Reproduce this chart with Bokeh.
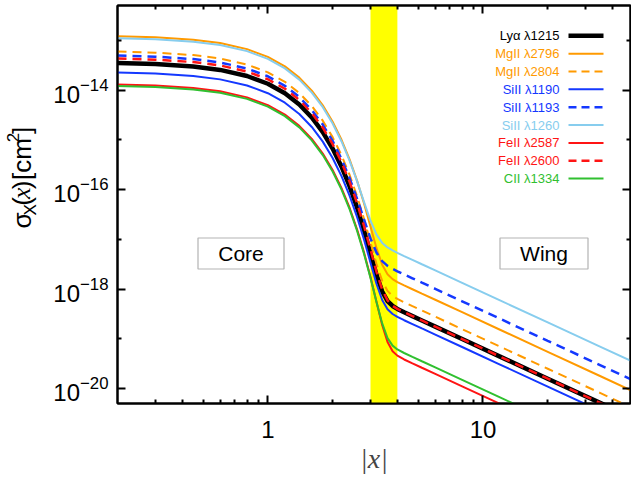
import numpy as np
from bokeh.plotting import figure
from bokeh.layouts import row
from bokeh.models import (Range1d, FixedTicker, LogAxis, LogTickFormatter,
                          PrintfTickFormatter, BoxAnnotation, Label, Arrow)
from bokeh.core.properties import value
from bokeh.embed import file_html
from bokeh.resources import INLINE

# |x| sample points (frequency offset in Doppler units)
x_abs = [0.2, 0.3, 0.45, 0.6, 0.8, 1.0, 1.2, 1.4, 1.6, 1.8, 2.0, 2.2, 2.4, 2.6, 2.8, 3.0,
         3.2, 3.4, 3.6, 3.8, 4.0, 4.3, 4.7, 5.2, 6.0, 8.0, 12.0, 20.0, 35.0, 50.0]

# log10 of the absorption cross-section sigma_X(x) [cm^2]
log_sig_lya1215 = [-13.457, -13.479, -13.528, -13.596, -13.718, -13.874, -14.065, -14.291, -14.552, -14.847,
                   -15.177, -15.540, -15.938, -16.366, -16.821, -17.286, -17.719, -18.050, -18.243, -18.341,
                   -18.400, -18.467, -18.544, -18.632, -18.756, -19.006, -19.358, -19.802, -20.288, -20.598]
log_sig_mg2796 = [-12.917, -12.939, -12.988, -13.056, -13.178, -13.334, -13.525, -13.751, -14.012, -14.307,
                  -14.637, -15.000, -15.398, -15.826, -16.281, -16.746, -17.179, -17.510, -17.703, -17.801,
                  -17.860, -17.927, -18.004, -18.092, -18.216, -18.466, -18.818, -19.262, -19.748, -20.058]
log_sig_mg2804 = [-13.227, -13.249, -13.298, -13.366, -13.488, -13.644, -13.835, -14.061, -14.322, -14.617,
                  -14.947, -15.310, -15.708, -16.137, -16.593, -17.060, -17.497, -17.837, -18.038, -18.140,
                  -18.199, -18.266, -18.344, -18.432, -18.556, -18.806, -19.158, -19.602, -20.088, -20.398]
log_sig_si1190 = [-13.647, -13.669, -13.718, -13.786, -13.908, -14.064, -14.255, -14.481, -14.742, -15.037,
                  -15.367, -15.730, -16.128, -16.556, -17.009, -17.472, -17.899, -18.221, -18.407, -18.502,
                  -18.560, -18.627, -18.704, -18.792, -18.916, -19.166, -19.518, -19.962, -20.448, -20.758]
log_sig_si1193 = [-13.307, -13.329, -13.378, -13.446, -13.568, -13.724, -13.915, -14.141, -14.402, -14.695,
                  -15.023, -15.384, -15.775, -16.189, -16.605, -16.985, -17.270, -17.440, -17.535, -17.595,
                  -17.643, -17.707, -17.784, -17.872, -17.996, -18.246, -18.598, -19.042, -19.528, -19.838]
log_sig_si1260 = [-12.957, -12.979, -13.028, -13.096, -13.218, -13.374, -13.565, -13.791, -14.052, -14.345,
                  -14.673, -15.034, -15.424, -15.837, -16.252, -16.627, -16.906, -17.073, -17.165, -17.225,
                  -17.273, -17.337, -17.414, -17.502, -17.626, -17.876, -18.228, -18.672, -19.158, -19.468]
log_sig_fe2587 = [-13.887, -13.909, -13.958, -14.026, -14.148, -14.304, -14.495, -14.721, -14.982, -15.277,
                  -15.607, -15.972, -16.371, -16.803, -17.268, -17.759, -18.259, -18.722, -19.064, -19.250,
                  -19.339, -19.416, -19.494, -19.582, -19.706, -19.956, -20.308, -20.752, -21.238, -21.548]
log_sig_fe2600 = [-13.367, -13.389, -13.438, -13.506, -13.628, -13.784, -13.975, -14.201, -14.462, -14.757,
                  -15.087, -15.450, -15.849, -16.278, -16.735, -17.207, -17.655, -18.012, -18.228, -18.337,
                  -18.399, -18.467, -18.544, -18.632, -18.756, -19.006, -19.358, -19.802, -20.288, -20.598]
log_sig_c1334 = [-13.917, -13.939, -13.988, -14.056, -14.178, -14.334, -14.525, -14.751, -15.012, -15.307,
                 -15.637, -16.001, -16.400, -16.832, -17.294, -17.780, -18.265, -18.692, -18.986, -19.138,
                 -19.214, -19.286, -19.364, -19.452, -19.576, -19.826, -20.178, -20.622, -21.108, -21.418]

transitions = ["Lyα λ1215", "MgII λ2796", "MgII λ2804", "SiII λ1190", "SiII λ1193",
               "SiII λ1260", "FeII λ2587", "FeII λ2600", "CII λ1334"]
series = [log_sig_lya1215, log_sig_mg2796, log_sig_mg2804, log_sig_si1190, log_sig_si1193,
          log_sig_si1260, log_sig_fe2587, log_sig_fe2600, log_sig_c1334]

# transition zone between Doppler core and damping wing
band_x = [3.0, 4.0]
region_names = ["Core", "Wing"]

x_major = [1, 10]
x_minor = [0.3, 0.4, 0.5, 0.6, 0.7, 0.8, 0.9, 2, 3, 4, 5, 6, 7, 8, 9, 20, 30, 40]
y_major = [1e-20, 1e-18, 1e-16, 1e-14]
y_minor = [1e-19, 1e-17, 1e-15, 1e-13]

# line styles
ORANGE, BLUE, SKY, RED, GREEN = "#ff9a00", "#1438ff", "#87cdee", "#ff1414", "#30c030"
styles = [
    ("black", "solid", 4.5),
    (ORANGE, "solid", 2.0),
    (ORANGE, "9 6", 2.0),
    (BLUE, "solid", 2.0),
    (BLUE, "9 6", 2.5),
    (SKY, "solid", 2.0),
    (RED, "solid", 2.0),
    (RED, "9 6", 2.5),
    (GREEN, "solid", 2.0),
]

FONT = "Liberation Sans"
SERIF = "Liberation Serif"
W, H = 631, 481
STRIP = 44                     # width of the strip holding the vertical title
FRAME_L, FRAME_B = 117, 403    # frame left / bottom on the full canvas

# ---- narrow strip on the left carrying the rotated y title ----
t = figure(width=STRIP, height=H, x_range=Range1d(0, STRIP), y_range=Range1d(0, H),
           x_axis_location=None, y_axis_location=None, min_border=0,
           output_backend="svg", toolbar_location=None)
t.grid.visible = False
t.outline_line_color = None
t.background_fill_color = "white"
t.border_fill_color = "white"


def vpiece(text, cx, cy, size, font=FONT, style="normal"):
    # each piece is centred on (cx, cy) and reads bottom-to-top
    t.text(x=[cx], y=[H - cy], text=[text], angle=np.pi / 2,
           text_font=value(font), text_font_size=f"{size}px", text_font_style=style,
           text_align="center", text_baseline="middle", text_color="black")


# sigma_X(x) [cm^2]
vpiece("σ", 21, 259.8, 26)
vpiece("X", 30, 246.9, 17)
vpiece("(", 21, 236.9, 26)
vpiece("x", 21, 226.8, 26, font=SERIF, style="italic")
vpiece(")", 21, 216.7, 26)
vpiece("[cm", 21, 185.5, 26)
vpiece("2", 12, 159.5, 17)
vpiece("]", 21, 151.0, 26)

# ---- main chart ----
p = figure(width=W - STRIP, height=H, x_axis_type="log", y_axis_type="log",
           x_range=Range1d(0.2, 48.5), y_range=Range1d(5e-21, 5e-13),
           output_backend="svg", toolbar_location=None,
           min_border_left=FRAME_L - STRIP, min_border_right=1, min_border_top=5,
           min_border_bottom=H - FRAME_B)
p.grid.visible = False
p.background_fill_color = "white"
p.border_fill_color = "white"
p.outline_line_color = "black"
p.outline_line_width = 2

p.add_layout(BoxAnnotation(left=band_x[0], right=band_x[1], fill_color="#ffff00",
                           fill_alpha=1.0, line_color=None, level="underlay"))

for logs, (color, dash, width) in zip(series, styles):
    p.line(x_abs, 10.0 ** np.array(logs), line_color=color, line_dash=dash,
           line_width=width)


def style_axis(ax, labels=True):
    ax.axis_line_width = 2
    ax.major_tick_line_width = 2
    ax.minor_tick_line_width = 2
    ax.major_tick_in = 8
    ax.major_tick_out = 0
    ax.minor_tick_in = 4
    ax.minor_tick_out = 0
    if labels:
        ax.major_label_text_font = FONT
        ax.major_label_text_font_size = "24px"
        ax.major_label_text_color = "black"
    else:
        ax.major_label_text_font_size = "1px"
        ax.major_label_text_alpha = 0
        ax.major_label_standoff = 0


xa = p.xaxis[0]
xa.ticker = FixedTicker(ticks=x_major, minor_ticks=x_minor)
xa.formatter = PrintfTickFormatter(format="%d")
style_axis(xa)
xa.major_label_standoff = 17
xa.axis_label = "|x|"
xa.axis_label_text_font = SERIF
xa.axis_label_text_font_style = "italic"
xa.axis_label_text_font_size = "28px"
xa.axis_label_standoff = 2

ya = p.yaxis[0]
ya.ticker = FixedTicker(ticks=y_major, minor_ticks=y_minor)
ya.formatter = LogTickFormatter()
style_axis(ya)
ya.major_label_standoff = 9

top = LogAxis(ticker=FixedTicker(ticks=x_major, minor_ticks=x_minor))
style_axis(top, labels=False)
p.add_layout(top, "above")
right = LogAxis(ticker=FixedTicker(ticks=y_major, minor_ticks=y_minor))
style_axis(right, labels=False)
p.add_layout(right, "right")


def frame_label(text, cx, cy, size, **kw):
    opts = dict(text_font=FONT, text_font_size=f"{size}px", text_color="black")
    opts.update(kw)
    p.add_layout(Label(x=cx - FRAME_L, y=FRAME_B - cy, x_units="screen",
                       y_units="screen", text=text, **opts))


# region tags: framed white boxes with centred text
for name, (cx0, cx1) in zip(region_names, ((197.5, 283.5), (499.5, 587.5))):
    p.add_layout(BoxAnnotation(left=cx0 - FRAME_L, right=cx1 - FRAME_L,
                               top=FRAME_B - 237.5, bottom=FRAME_B - 268.5,
                               left_units="screen", right_units="screen",
                               top_units="screen", bottom_units="screen",
                               fill_color="white", fill_alpha=1.0,
                               line_color="black", line_width=1.2))
    frame_label(name, (cx0 + cx1) / 2, 253, 21, text_align="center", text_baseline="middle")

# legend: label on the left, line sample on the right
row0, drow = 35.3, 17.85
for i, (name, (color, dash, width)) in enumerate(zip(transitions, styles)):
    cy = row0 + i * drow
    frame_label(name, 559, cy, 13, text_align="right", text_baseline="middle",
                text_color=color)
    p.add_layout(Arrow(start=None, end=None, x_start=568 - FRAME_L, x_end=603 - FRAME_L,
                       y_start=FRAME_B - cy, y_end=FRAME_B - cy,
                       start_units="screen", end_units="screen",
                       line_color=color, line_width=width,
                       line_dash="8 5" if dash != "solid" else "solid"))

layout = row(t, p, spacing=0)
open("out.html", "w").write(file_html(layout, INLINE))
